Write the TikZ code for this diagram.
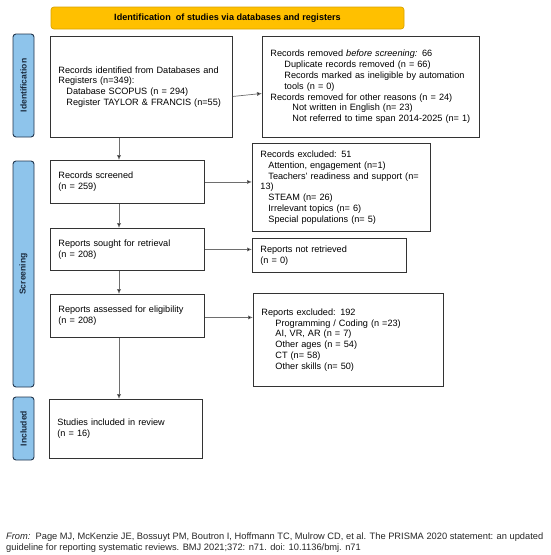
\documentclass[tikz,border=0pt]{standalone}
\usepackage{fontspec}
\setmainfont{Liberation Sans}
\usetikzlibrary{arrows.meta}
\definecolor{boxc}{HTML}{333333}
\definecolor{linec}{HTML}{6E6E6E}
\definecolor{bannerfill}{HTML}{FFC000}
\definecolor{bannerdraw}{HTML}{D9A300}
\definecolor{sidefill}{HTML}{8EC4EB}
\definecolor{sidedraw}{HTML}{22364D}
\begin{document}
\begin{tikzpicture}[x=1pt,y=-1pt,
  box/.style={draw=boxc, line width=0.9pt, inner xsep=8pt, inner ysep=0pt,
    align=left, anchor=north west, font=\fontsize{9.15}{10.8}\selectfont},
  side/.style={draw=sidedraw, fill=sidefill, line width=0.9pt, rounded corners=3pt,
    rotate=90, minimum height=21pt, inner sep=0pt,
    font=\fontsize{8.6}{10}\selectfont\bfseries, text=sidedraw!80!black},
  arr/.style={draw=linec, line width=0.7pt, -{Latex[length=5pt,width=4.2pt,fill=black]}},
  foot/.style={anchor=base west, inner sep=0pt, font=\fontsize{9.3}{10.5}\selectfont, text=black!85}]
\useasboundingbox (0,0) rectangle (550,555);
\fill[white] (0,0) rectangle (550,555);

% banner
\node[draw=bannerdraw, fill=bannerfill, line width=0.7pt, rounded corners=3pt,
  minimum width=353pt, minimum height=22pt, inner sep=0pt,
  font=\fontsize{9.1}{10}\selectfont\bfseries] (banner) at (227.5,18)
  {Identification\ \ of studies via databases and registers};

% side labels
\node[side, minimum width=103pt] (sid) at (23.5,85.5) {Identification};
\node[side, minimum width=226pt] (sscr) at (23.5,274) {Screening};
\node[side, minimum width=63pt] (sinc) at (23.5,428.5) {Included};

% boxes
\node[box, minimum width=182pt, minimum height=101pt, text width=166pt] (b1) at (50,36)
  {Records identified from Databases and\\Registers (n=349):\\
   \hspace*{8pt}Database SCOPUS (n = 294)\\
   \hspace*{8pt}Register TAYLOR \& FRANCIS (n=55)};
\node[box, minimum width=217pt, minimum height=101pt, text width=201pt] (rem) at (262,36)
  {Records removed \emph{before screening:} 66\\
   \hspace*{14pt}Duplicate records removed (n = 66)\\
   \hspace*{14pt}Records marked as ineligible by automation\\
   \hspace*{14pt}tools (n = 0)\\
   Records removed for other reasons (n = 24)\\
   \hspace*{22pt}Not written in English (n= 23)\\
   \hspace*{22pt}\mbox{Not referred to time span 2014-2025 (n=~1)}};
\node[box, minimum width=154pt, minimum height=43pt, text width=138pt] (scr) at (50,160)
  {Records screened\\(n = 259)};
\node[box, minimum width=178pt, minimum height=88pt, text width=162pt] (excl) at (252,143)
  {Records excluded: 51\\
   \hspace*{8pt}Attention, engagement (n=1)\\
   \hspace*{8pt}\mbox{Teachers’ readiness and support (n=}\\
   13)\\
   \hspace*{8pt}STEAM (n= 26)\\
   \hspace*{8pt}Irrelevant topics (n= 6)\\
   \hspace*{8pt}Special populations (n= 5)};
\node[box, minimum width=154pt, minimum height=42pt, text width=138pt] (sought) at (50,228)
  {Reports sought for retrieval\\(n = 208)};
\node[box, minimum width=154pt, minimum height=34pt, text width=138pt] (notr) at (252,238)
  {Reports not retrieved\\(n = 0)};
\node[box, minimum width=154pt, minimum height=43pt, text width=138pt] (assess) at (50,294)
  {Reports assessed for eligibility\\(n = 208)};
\node[box, minimum width=190pt, minimum height=93pt, text width=174pt] (rexcl) at (253,293)
  {Reports excluded: 192\\
   \hspace*{14pt}Programming / Coding (n =23)\\
   \hspace*{14pt}AI, VR, AR (n = 7)\\
   \hspace*{14pt}Other ages (n = 54)\\
   \hspace*{14pt}CT (n= 58)\\
   \hspace*{14pt}Other skills (n= 50)};
\node[box, minimum width=153pt, minimum height=59pt, text width=137pt] (incl) at (49,399)
  {Studies included in review\\(n = 16)};

% connectors
\coordinate (vx) at (119,0);
\draw[arr] (b1.south -| vx) -- (scr.north -| vx);
\draw[arr] (scr.south -| vx) -- (sought.north -| vx);
\draw[arr] (sought.south -| vx) -- (assess.north -| vx);
\draw[arr] (assess.south -| vx) -- (incl.north -| vx);
\draw[arr] ([yshift=-9.5pt]b1.east) -- ([yshift=-6.5pt]rem.west);
\draw[arr] (scr.east) -- (excl.west |- scr.east);
\draw[arr] (sought.east) -- (notr.west |- sought.east);
\draw[arr] ([yshift=-1.5pt]assess.east) -- ([yshift=-1.5pt]rexcl.west |- assess.east);

% footer
\node[foot] (f1) at (6,539.5) {\emph{From:}\ \ Page MJ, McKenzie JE, Bossuyt PM, Boutron I, Hoffmann TC, Mulrow CD, et al. The PRISMA 2020 statement: an updated};
\node[foot] (f2) at (6,550) {guideline for reporting systematic reviews. BMJ 2021;372: n71. doi: 10.1136/bmj. n71};
\end{tikzpicture}
\end{document}
